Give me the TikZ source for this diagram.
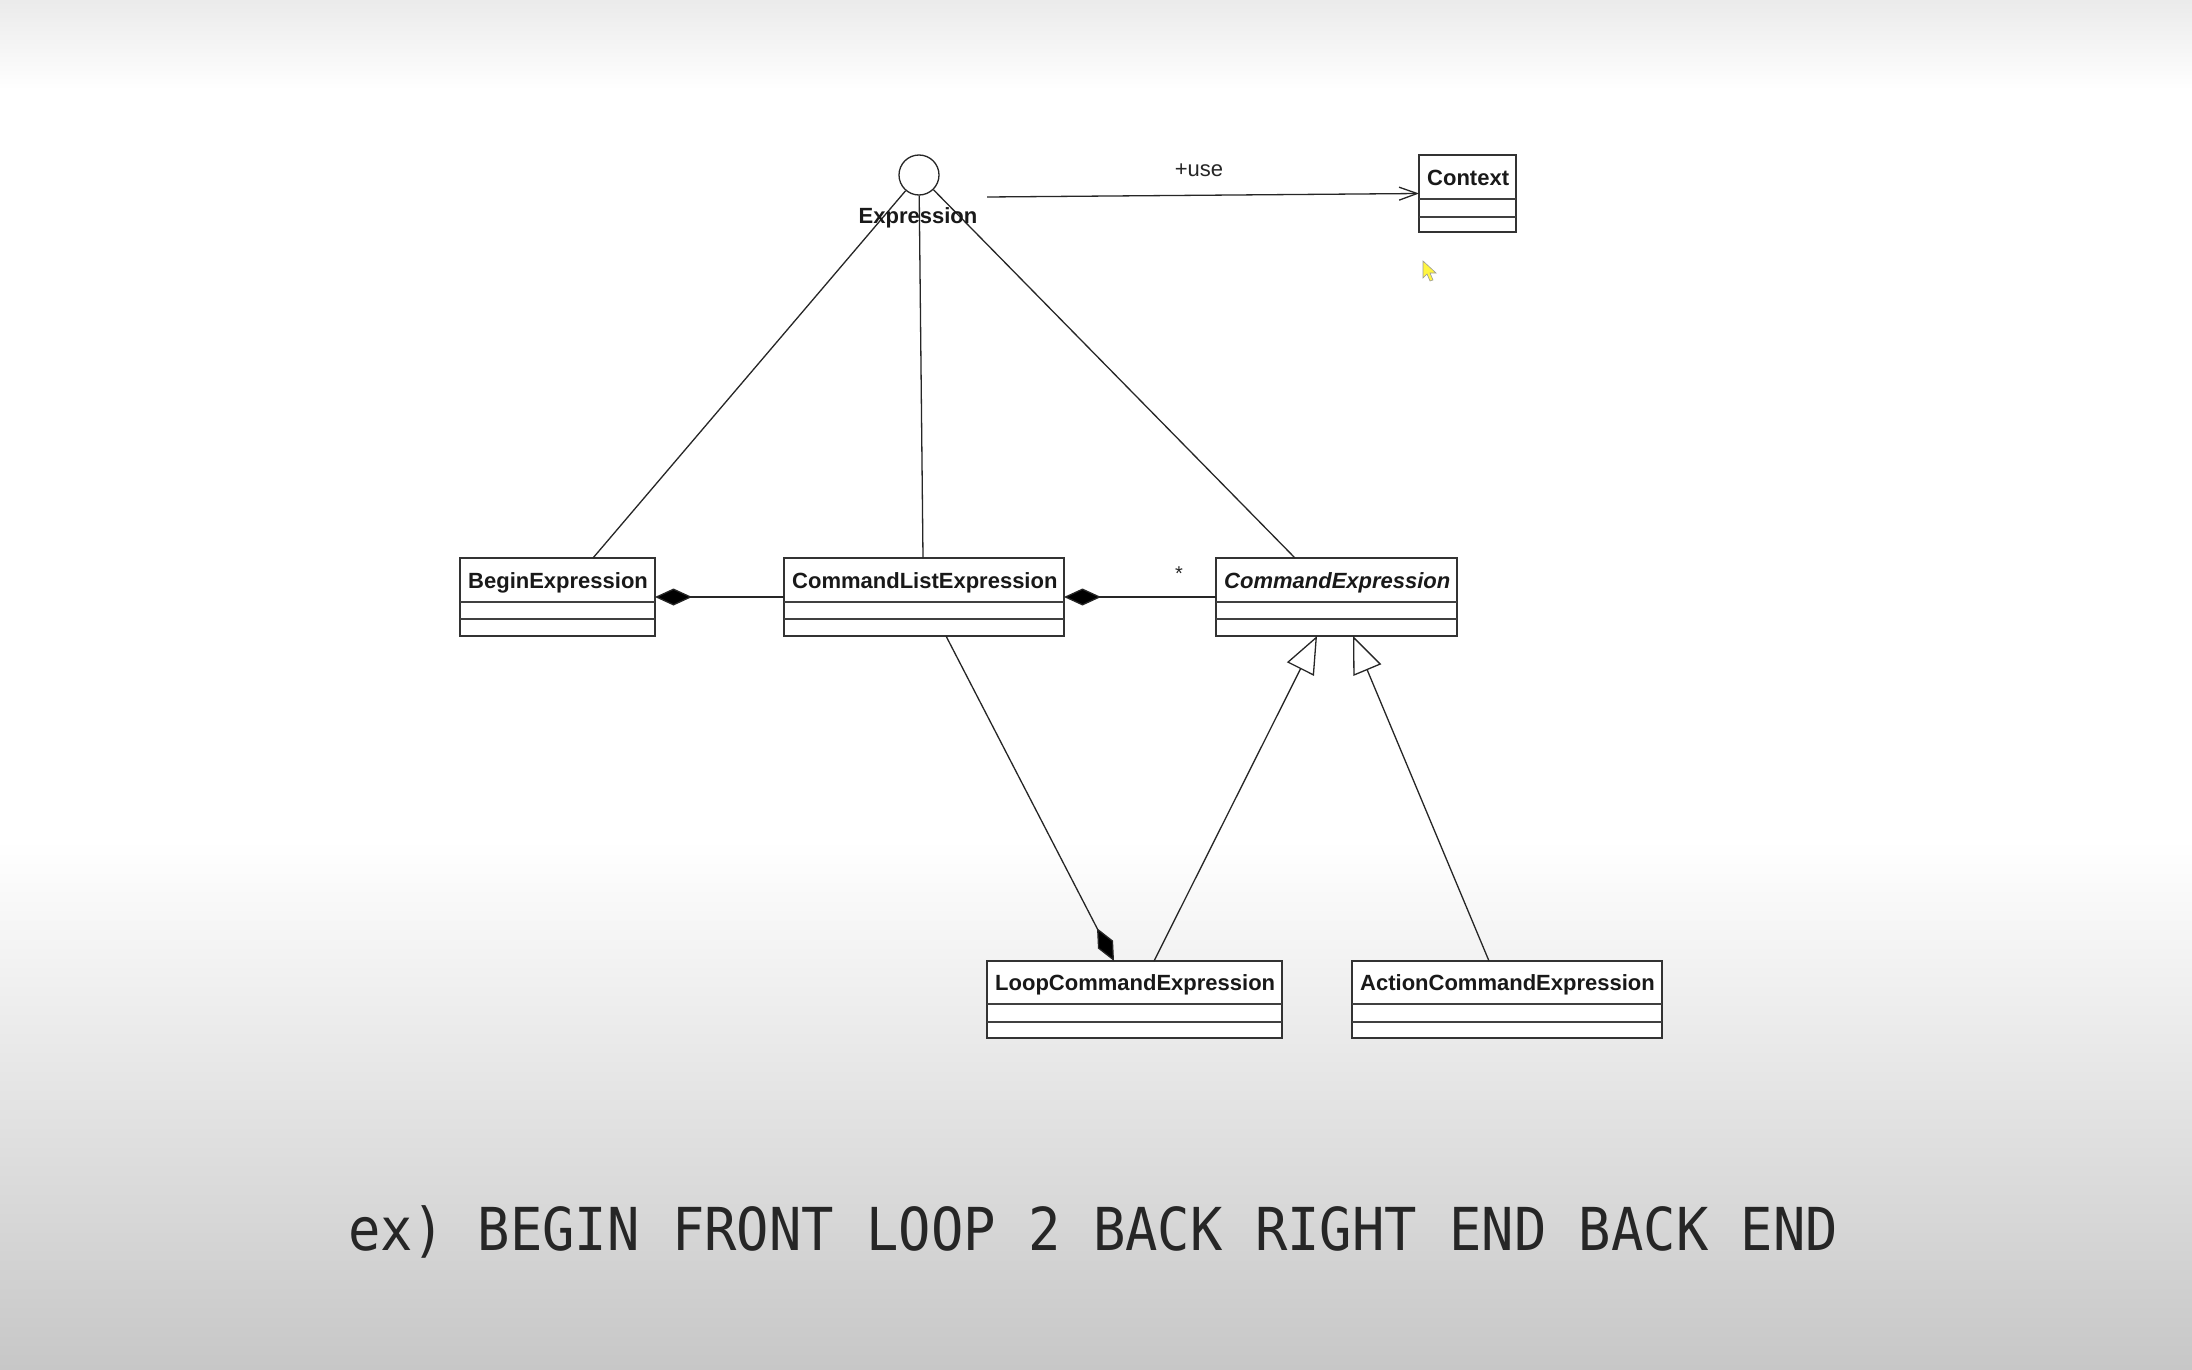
\documentclass[tikz,border=0pt]{standalone}
\usepackage{fontspec}
\usepackage{graphicx}
\setmainfont{Liberation Sans}
\newfontfamily\monofont{DejaVu Sans Mono}
\usetikzlibrary{arrows.meta,calc}
\tikzset{
 cbox/.style={draw=black!80, line width=1.3pt, fill=white, inner sep=0pt, outer sep=0pt, anchor=north west},
 cname/.style={inner sep=0pt, anchor=base west, font=\fontsize{22}{26}\selectfont\bfseries, text=black!90},
 sepline/.style={draw=black!75, line width=1.3pt},
 conn/.style={draw=black!85, line width=1.3pt},
 compstart/.style={conn, {Diamond[length=37pt,width=17pt,fill=black]}-},
 compend/.style={conn, -{Diamond[length=37pt,width=17pt,fill=black]}},
 gen/.style={conn, -{Triangle[open,length=37pt,width=30pt,fill=white]}},
 usearrow/.style={conn, -{Straight Barb[length=18pt,width=13pt]}},
}
\newcommand{\umlclass}[8]{%
 \node[cbox, minimum width={#4-#2}, minimum height={#5-#3}] (#1) at (#2,#3) {};
 \draw[sepline] (#2,#6) -- (#4,#6) (#2,#7) -- (#4,#7);
 \node[cname] (#1-name) at ({#2+8},{(#3+#6)/2+8}) {#8};
}
\begin{document}
\begin{tikzpicture}[x=1pt,y=-1pt]
\useasboundingbox (0,0) rectangle (2192,1370);
% background
\shade[top color=black!8, bottom color=white] (0,0) rectangle (2192,90);
\fill[white] (0,89) rectangle (2192,841);
\shade[top color=white, bottom color=black!22] (0,840) rectangle (2192,1370);

% classes
\umlclass{ctx}{1419}{155}{1516}{232}{199}{217}{Context}
\umlclass{be}{460}{558}{655}{636}{602}{619}{BeginExpression}
\umlclass{clist}{784}{558}{1064}{636}{602}{619}{CommandListExpression}
\umlclass{cexp}{1216}{558}{1457}{636}{602}{619}{\itshape CommandExpression}
\umlclass{loop}{987}{961}{1282}{1038}{1004}{1022}{LoopCommandExpression}
\umlclass{act}{1352}{961}{1662}{1038}{1004}{1022}{ActionCommandExpression}

% interface
\node[circle, draw=black!85, line width=1.3pt, fill=white, minimum size=40pt, inner sep=0pt] (expr) at (919,175) {};

% connectors
\draw[conn] (expr) -- ([xshift=133pt]be.north west);
\draw[conn] (expr) -- ([xshift=139pt]clist.north west);
\draw[conn] (expr) -- ([xshift=79pt]cexp.north west);

\coordinate (usestart) at (987,197);
\draw[usearrow] (usestart) -- (ctx.west);
\node[anchor=base, inner sep=0pt, font=\fontsize{22}{26}\selectfont, text=black!85] (uselabel) at (1199,176) {+use};

\draw[compstart] (be.east) -- (clist.west);
\draw[compstart] (clist.east) -- (cexp.west);
\node[anchor=base, inner sep=0pt, font=\fontsize{20}{24}\selectfont, text=black!85] (mult) at (1179,580) {*};

\draw[compend] ([xshift=162pt]clist.south west) -- ([xshift=127pt]loop.north west);
\draw[gen] ([xshift=167pt]loop.north west) -- ([xshift=101pt]cexp.south west);
\draw[gen] ([xshift=137pt]act.north west) -- ([xshift=137pt]cexp.south west);

\node[anchor=base, inner sep=0pt, font=\fontsize{22}{26}\selectfont\bfseries, text=black!90] (exprlabel) at (918,223) {Expression};

% mouse pointer
\filldraw[fill=yellow!75!white, draw=black!40, line width=0.6pt] (1423,261) -- (1423,278) -- (1427,274) -- (1430,281) -- (1433,280) -- (1430,273) -- (1436,273) -- cycle;

% example text
\node[anchor=base west, inner sep=0pt, text=black!85] (example) at (348,1250) {\scalebox{1}[1.1]{\monofont\fontsize{53.8}{60}\selectfont ex) BEGIN FRONT LOOP 2 BACK RIGHT END BACK END}};
\end{tikzpicture}
\end{document}
